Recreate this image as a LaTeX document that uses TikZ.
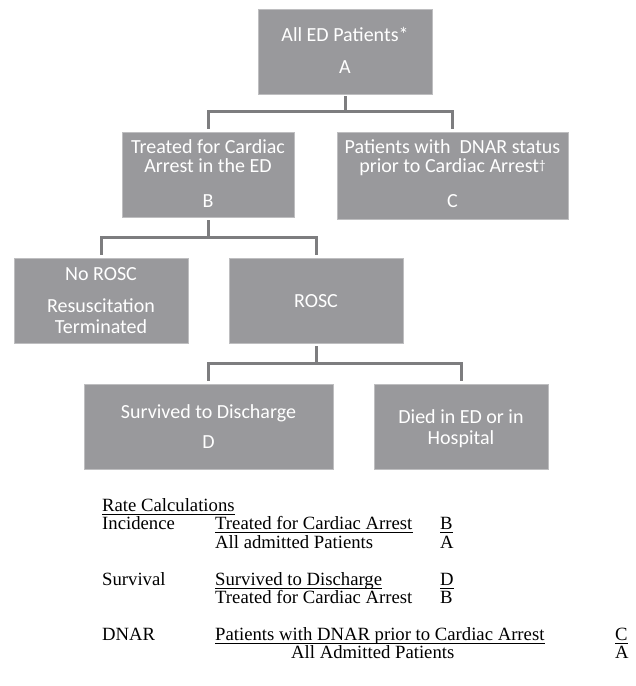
\documentclass[tikz,border=0pt]{standalone}
\usepackage{fontspec}
\setmainfont{Liberation Serif}
\newfontfamily\calfont{Carlito}
\definecolor{boxgray}{RGB}{153,153,156}
\definecolor{boxedge}{RGB}{190,190,192}
\definecolor{linegray}{RGB}{125,125,127}
\tikzset{
  box/.style={fill=boxgray, draw=boxedge, line width=0.6bp, inner sep=0pt},
  conn/.style={draw=linegray, line width=3bp, line join=miter},
  bt/.style={inner sep=0pt, anchor=base, text=white, font=\calfont\fontsize{20bp}{22bp}\selectfont},
  tx/.style={inner sep=0pt, anchor=base west, font=\fontsize{18.7bp}{20bp}\selectfont},
  ul/.style={draw=black, line width=0.9bp}
}
\begin{document}
\begin{tikzpicture}[x=1bp,y=-1bp]
\useasboundingbox[fill=white] (0,0) rectangle (636,686);
% boxes
\node[box, minimum width=174bp, minimum height=85bp] (A) at (345,51.5) {};
\node[box, minimum width=172bp, minimum height=85bp] (B) at (208,174.5) {};
\node[box, minimum width=231bp, minimum height=87bp] (C) at (452.5,175.5) {};
\node[box, minimum width=174bp, minimum height=85bp] (NR) at (101,300.5) {};
\node[box, minimum width=174bp, minimum height=85bp] (R) at (316,300.5) {};
\node[box, minimum width=249bp, minimum height=85bp] (D) at (208.5,426.5) {};
\node[box, minimum width=174bp, minimum height=85bp] (X) at (461,426.5) {};
% box texts
\node[bt] (A1) at (345,42) {All ED Patients*};
\node[bt] (A2) at (345,74) {A};
\node[bt] (B1) at (208,153) {Treated for Cardiac};
\node[bt] (B2) at (208,172) {Arrest in the ED};
\node[bt] (B3) at (208,207) {B};
\node[bt] (C1) at (452.5,153) {Patients with\ \ DNAR status};
\node[bt] (C2) at (452.5,172) {prior to Cardiac Arrest{\fontsize{13bp}{13bp}\selectfont\raisebox{3bp}{†}}};
\node[bt] (C3) at (452.5,207) {C};
\node[bt] (NR1) at (101,280) {No ROSC};
\node[bt] (NR2) at (101,312) {Resuscitation};
\node[bt] (NR3) at (101,333) {Terminated};
\node[bt] (R1) at (316,307) {ROSC};
\node[bt] (D1) at (208.5,418) {Survived to Discharge};
\node[bt] (D2) at (208.5,448) {D};
\node[bt] (X1) at (461,423) {Died in ED or in};
\node[bt] (X2) at (461,444) {Hospital};
% connectors
\coordinate (jA) at (345,112);
\coordinate (jB) at (208,237);
\coordinate (jR) at (316,363);
\draw[conn, shorten <=2bp] (A.south) -- (jA);
\draw[conn, shorten <=3bp, shorten >=3bp] (B.north) |- (jA) -| (C.north);
\draw[conn, shorten <=3bp] (B.south) -- (jB);
\draw[conn, shorten <=3bp, shorten >=3bp] (NR.north) |- (jB) -| (R.north);
\draw[conn, shorten <=3bp] (R.south) -- (jR);
\draw[conn, shorten <=3bp, shorten >=3bp] (D.north) |- (jR) -| (X.north);
% rate calculations
\node[tx] (r0) at (102,511) {Rate Calculations\hspace{9bp}};
\node[tx] (i0) at (102,529.5) {Incidence};
\node[tx] (i1) at (215,529.5) {Treated for Cardiac Arrest};
\node[tx] (i2) at (440,529.5) {B};
\node[tx] (i3) at (215,548) {All admitted Patients};
\node[tx] (i4) at (440,548) {A};
\node[tx] (s0) at (102,585) {Survival};
\node[tx] (s1) at (215,585) {Survived to Discharge};
\node[tx] (s2) at (440,585) {D};
\node[tx] (s3) at (215,603.5) {Treated for Cardiac Arrest};
\node[tx] (s4) at (440,603.5) {B};
\node[tx] (d0) at (102,640) {DNAR};
\node[tx] (d1) at (215,640) {Patients with DNAR prior to Cardiac Arrest};
\node[tx] (d2) at (615,640) {C};
\node[tx] (d3) at (291,658.5) {All Admitted Patients};
\node[tx] (d4) at (615,658.5) {A};
% underlines
\foreach \n in {r0,i1,i2,s1,s2,d1,d2}{
  \draw[ul] ([yshift=-3bp]\n.base west) -- ([yshift=-3bp]\n.base east);
}
\end{tikzpicture}
\end{document}
